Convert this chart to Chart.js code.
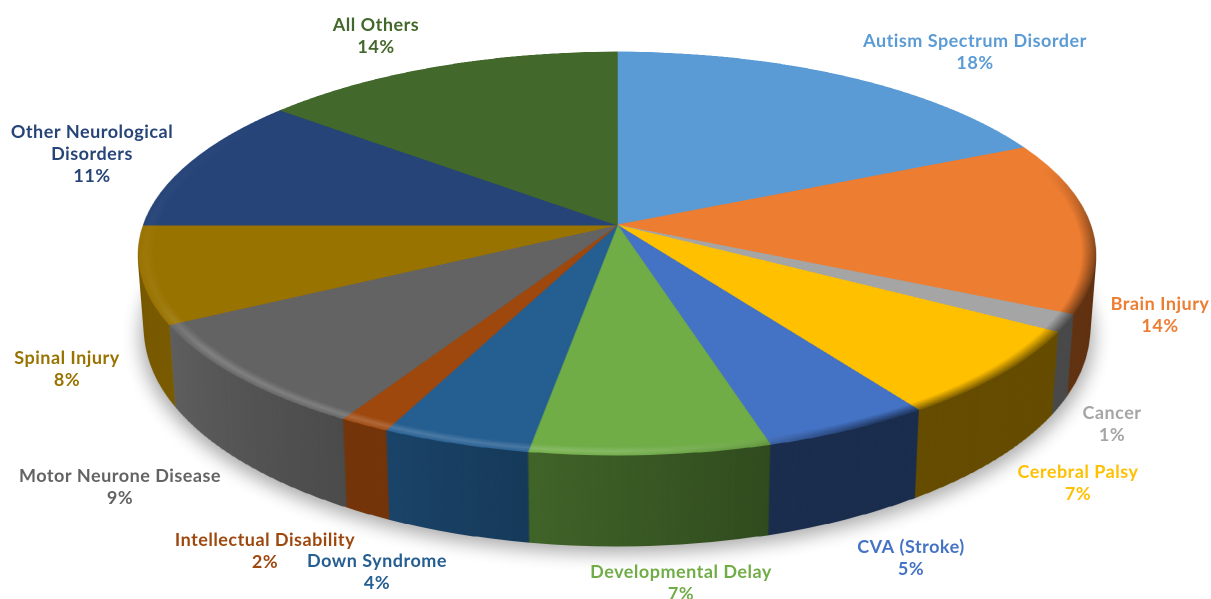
<!DOCTYPE html>
<html><head><meta charset="utf-8">
<style>html,body{margin:0;padding:0;background:#fff;overflow:hidden}canvas{display:block}</style>
<script src="https://cdn.jsdelivr.net/npm/chart.js@4/dist/chart.umd.min.js"></script>
</head><body>
<canvas id="c" width="1211" height="599"></canvas>
<script>
const categories = ["Autism Spectrum Disorder","Brain Injury","Cancer","Cerebral Palsy","CVA (Stroke)","Developmental Delay","Down Syndrome","Intellectual Disability","Motor Neurone Disease","Spinal Injury","Other Neurological\nDisorders","All Others"];
const values = [18.2,13.8,1.4,7.1,5,7.1,4.4,1.5,8.7,7.8,10.9,14.1];
const colors = ["#5B9BD5","#ED7D31","#A5A5A5","#FFC000","#4472C4","#70AD47","#255E91","#9E480E","#636363","#997300","#264478","#43682B"];

/* presentation only */
const wallShade = [[.4,.4],[.42,.42],[.45,.45],[.4,.4],[.4,.4],[.44,.58],[.62,.73],[.74,.74],[.77,.97],[.8,.8],[.8,.8],[.8,.8]];
const labelCenters = [[975,41],[1160,304],[1112,413],[1078,472],[911,547],[681,572],[377,561],[265,540],[120,476],[67,358],[92,132],[376,25]];
const LINE = 22, FONT = "bold 18px Lato, sans-serif", SPACING = "0.5px";
const CX = 617, C = -0.1414;
const TOP = {a:165.66,b:225,k:473.2}, BOTTOM = {a:169.35,b:299.45,k:467};
const LAYERS = 100, PAD = 3;

function makeCanvas(w,h){const c=document.createElement('canvas');c.width=w;c.height=h;return c;}

function warp(ctx,src,sx0,sy0,R,P,DPR,vMin){
  const bb=P.b*DPR, aa=P.a*DPR, kk=P.k*DPR;
  const f=v=>(aa*v+bb)/(C*v+1);
  const pad=(R+PAD*DPR)/R;
  const y0=Math.floor(f(Math.max(vMin,-pad))), y1=Math.ceil(f(pad));
  for(let Y=y0;Y<=y1;Y++){
    const v=(Y+.5-bb)/(aa-C*(Y+.5));
    if(v<vMin||v>pad) continue;
    const s=kk/(1+C*v)*pad;
    const sy=Math.floor(sy0+v*R);
    ctx.drawImage(src,sx0-R*pad,sy,2*R*pad,1,CX*DPR-s,Y,2*s,1);
  }
}

const perspective = {
  id:'perspective',
  afterDraw(chart){
    const ctx=chart.ctx, DPR=chart.currentDevicePixelRatio, W=chart.canvas.width, H=chart.canvas.height;
    const arc=chart.getDatasetMeta(0).data[0];
    const cx=arc.x*DPR, cy=arc.y*DPR, R=arc.outerRadius*DPR;

    const flat=makeCanvas(W,H); const fc=flat.getContext('2d'); fc.drawImage(chart.canvas,0,0);

    /* wall material: darken in place, so the antialiased rim stays clean */
    const wall=makeCanvas(W,H); const wc=wall.getContext('2d'); wc.drawImage(flat,0,0);
    const total=values.reduce((p,q)=>p+q,0);
    const cg=wc.createConicGradient(-Math.PI/2,cx,cy);
    let acc=0;
    const g=x=>`rgba(0,0,0,${1-x})`;
    values.forEach((val,i)=>{
      cg.addColorStop(acc/total,g(wallShade[i][0]));
      acc+=val;
      cg.addColorStop(Math.min(1,acc/total),g(wallShade[i][1]));
    });
    wc.globalCompositeOperation='source-atop'; wc.fillStyle=cg; wc.fillRect(0,0,W,H);

    /* top material with bevel */
    const top=makeCanvas(W,H); const tc=top.getContext('2d'); tc.drawImage(flat,0,0);
    const ring=(rgb,stops,prof)=>{
      const r=makeCanvas(W,H), rc=r.getContext('2d');
      const cn=rc.createConicGradient(-Math.PI/2,cx,cy);
      stops.forEach(([o,al])=>cn.addColorStop(o,`rgba(${rgb},${al})`));
      rc.fillStyle=cn; rc.fillRect(0,0,W,H);
      rc.globalCompositeOperation='destination-in';
      const rg=rc.createRadialGradient(cx,cy,0,cx,cy,R);
      prof.forEach(([o,al])=>rg.addColorStop(o,`rgba(0,0,0,${al})`));
      rc.fillStyle=rg; rc.fillRect(0,0,W,H);
      tc.globalCompositeOperation='source-atop';
      tc.drawImage(r,0,0);
    };
    ring('255,255,255',[[0,0],[.44,0],[.5,.16],[.58,.18],[.65,.2],[.69,.06],[.76,.03],[.85,0],[1,0]],[[0,0],[.968,0],[.986,1],[1,.25]]);
    ring('0,0,0',[[0,0],[.2,0],[.25,.35],[.3,.5],[.42,.5],[.46,.1],[.5,0],[1,0]],[[0,0],[.972,0],[1,1]]);

    ctx.save();
    ctx.setTransform(1,0,0,1,0,0);
    ctx.clearRect(0,0,W,H);
    ctx.fillStyle='#fff'; ctx.fillRect(0,0,W,H);

    /* ground shadow */
    const sh=makeCanvas(W,H), sc=sh.getContext('2d');
    warp(sc,wall,cx,cy,R,{a:BOTTOM.a,b:BOTTOM.b+6,k:BOTTOM.k+4},DPR,-.4);
    ctx.filter=`brightness(0) blur(${9*DPR}px) opacity(.33)`;
    ctx.drawImage(sh,0,0);
    ctx.filter='none';

    /* side wall: stacked layers */
    for(let i=0;i<LAYERS;i++){
      const t=i/LAYERS;
      const P={a:BOTTOM.a+(TOP.a-BOTTOM.a)*t,b:BOTTOM.b+(TOP.b-BOTTOM.b)*t,k:BOTTOM.k+(TOP.k-BOTTOM.k)*t};
      warp(ctx,wall,cx,cy,R,P,DPR,-.35);
    }
    /* top face */
    warp(ctx,top,cx,cy,R,TOP,DPR,-2);

    /* labels */
    ctx.setTransform(DPR,0,0,DPR,0,0);
    ctx.font=FONT; ctx.textAlign='center'; ctx.textBaseline='middle';
    ctx.letterSpacing=SPACING;
    categories.forEach((name,i)=>{
      const lines=name.split('\n').concat([Math.round(values[i]/total*100)+'%']);
      ctx.fillStyle=colors[i];
      lines.forEach((l,j)=>ctx.fillText(l,labelCenters[i][0],labelCenters[i][1]+j*LINE));
    });
    ctx.restore();
  }
};

new Chart(document.getElementById('c'),{
  type:'pie',
  data:{labels:categories,datasets:[{data:values,backgroundColor:colors,borderColor:colors,borderWidth:1}]},
  options:{
    responsive:false,animation:false,devicePixelRatio:2,
    layout:{padding:6},
    plugins:{legend:{display:false},tooltip:{enabled:false}}
  },
  plugins:[perspective]
});
</script>
</body></html>
